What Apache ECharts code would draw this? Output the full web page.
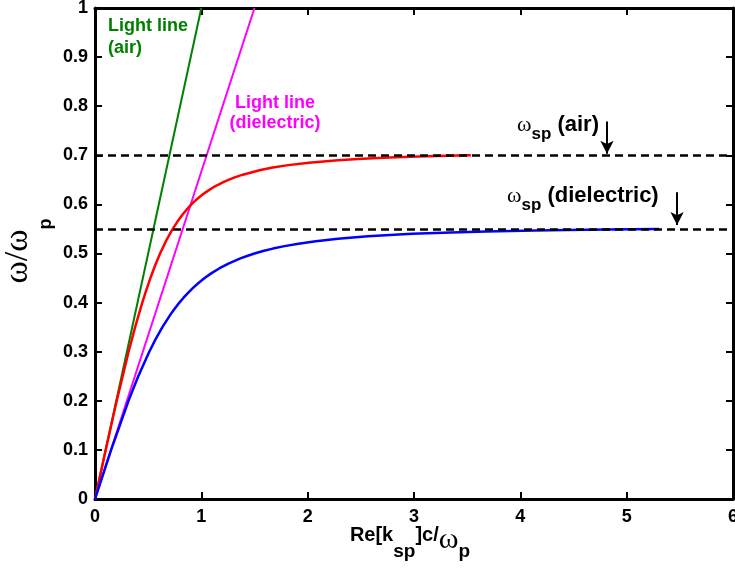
<!DOCTYPE html>
<html><head><meta charset="utf-8">
<script src="https://cdn.jsdelivr.net/npm/echarts@6/dist/echarts.min.js"></script>
<style>html,body{margin:0;padding:0;background:#fff}#c{width:735px;height:577px}</style>
</head><body><div id="c"></div>
<script>
// ---- data ----
const xTickLabels = ['0', '1', '2', '3', '4', '5', '6'];
const yTickLabels = ['0', '0.1', '0.2', '0.3', '0.4', '0.5', '0.6', '0.7', '0.8', '0.9', '1'];

// SPP dispersion, metal / air (red)
const kAir = [0, 0.1005, 0.2043, 0.316, 0.3773, 0.4446, 0.4814, 0.521, 0.5643, 0.612, 0.667, 0.731, 0.7753, 0.826, 0.8643, 0.907, 0.9306, 0.9557, 0.9826, 1.012, 1.0431, 1.0774, 1.115, 1.157, 1.2027, 1.255, 1.3137, 1.382, 1.556, 1.672, 1.818, 2.012, 2.285, 2.471, 2.712, 2.967, 3.125, 3.311, 3.535];
const wAir = [0, 0.1, 0.2, 0.3, 0.35, 0.4, 0.425, 0.45, 0.475, 0.5, 0.525, 0.55, 0.565, 0.58, 0.59, 0.6, 0.605, 0.61, 0.615, 0.62, 0.625, 0.63, 0.635, 0.64, 0.645, 0.65, 0.655, 0.66, 0.67, 0.675, 0.68, 0.685, 0.69, 0.6925, 0.695, 0.697, 0.698, 0.699, 0.7];

// SPP dispersion, metal / dielectric (blue)
const kDiel = [0, 0.1517, 0.3151, 0.4067, 0.5104, 0.5689, 0.6339, 0.7077, 0.7404, 0.7937, 0.8328, 0.8753, 0.9218, 0.9733, 1.031, 1.0963, 1.172, 1.260, 1.367, 1.4296, 1.5, 1.5803, 1.673, 1.7824, 1.914, 2.0762, 2.285, 2.567, 2.981, 3.348, 3.681, 4.137, 4.437, 4.814, 5.304];
const wDiel = [0, 0.1, 0.2, 0.25, 0.3, 0.325, 0.35, 0.375, 0.385, 0.4, 0.41, 0.42, 0.43, 0.44, 0.45, 0.46, 0.47, 0.48, 0.49, 0.495, 0.5, 0.505, 0.51, 0.515, 0.52, 0.525, 0.53, 0.535, 0.54, 0.543, 0.545, 0.547, 0.548, 0.549, 0.55];

// light lines
const lightAirK = [0, 1];
const lightAirW = [0, 1];
const lightDielK = [0, 1.5];
const lightDielW = [0, 1];

// surface plasmon frequencies (dashed)
const spLevels = [0.7, 0.55];

// annotation arrows [x, yStart, yEnd]
const arrowAir = [4.815, 0.769, 0.703];
const arrowDiel = [5.474, 0.625, 0.558];

const zip = (a, b) => a.map((v, i) => [v, b[i]]);

const SANS = 'Liberation Sans, Arial, sans-serif';
const SERIF = 'Liberation Serif, Times New Roman, serif';

const chart = echarts.init(document.getElementById('c'), null, { renderer: 'canvas' });

const axisLineStyle = { color: '#000', width: 3 };
const tickStyle = { color: '#000', width: 2 };

// rich-text styles: a = bold sans, w = serif omega, s = lowered bold subscript
const mkRich = (aSize, aLH, wSize, wLH, sSize, sLH, sPad) => ({
  a: { fontFamily: SANS, fontWeight: 'bold', fontSize: aSize, lineHeight: aLH, verticalAlign: 'top', color: '#000' },
  w: { fontFamily: SERIF, fontWeight: 'normal', fontSize: wSize, lineHeight: wLH, verticalAlign: 'top', color: '#000' },
  s: { fontFamily: SANS, fontWeight: 'bold', fontSize: sSize, lineHeight: sLH, padding: [sPad, 0, 0, 0], verticalAlign: 'top', color: '#000' }
});

const option = {
  animation: false,
  backgroundColor: '#fff',
  grid: { left: 95, right: 2, top: 8, bottom: 78, containLabel: false, outerBoundsMode: 'none' },
  xAxis: [{
    type: 'value', min: 0, max: 6, interval: 1,
    axisLine: { show: true, lineStyle: axisLineStyle, onZero: false },
    axisTick: { show: true, inside: true, length: 7, lineStyle: tickStyle },
    splitLine: { show: false },
    axisLabel: { margin: 9, fontFamily: SANS, fontWeight: 'bold', fontSize: 18, color: '#000',
      formatter: (v, i) => xTickLabels[i] }
  }, {
    type: 'value', min: 0, max: 6, interval: 1, position: 'top',
    axisLine: { show: true, lineStyle: axisLineStyle, onZero: false },
    axisTick: { show: true, inside: true, length: 7, lineStyle: tickStyle },
    splitLine: { show: false }, axisLabel: { show: false }
  }],
  yAxis: [{
    type: 'value', min: 0, max: 1, interval: 0.1,
    axisLine: { show: true, lineStyle: axisLineStyle, onZero: false },
    axisTick: { show: true, inside: true, length: 7, lineStyle: tickStyle },
    splitLine: { show: false },
    axisLabel: { margin: 7, fontFamily: SANS, fontWeight: 'bold', fontSize: 18, color: '#000',
      formatter: (v, i) => yTickLabels[i] }
  }, {
    type: 'value', min: 0, max: 1, interval: 0.1, position: 'right',
    axisLine: { show: true, lineStyle: axisLineStyle, onZero: false },
    axisTick: { show: true, inside: true, length: 7, lineStyle: tickStyle },
    splitLine: { show: false }, axisLabel: { show: false }
  }],
  series: [
    { type: 'line', name: 'light air', data: zip(lightAirK, lightAirW), showSymbol: false, symbol: 'none',
      lineStyle: { color: '#008000', width: 2 }, silent: true },
    { type: 'line', name: 'light diel', data: zip(lightDielK, lightDielW), showSymbol: false, symbol: 'none',
      lineStyle: { color: '#ff00ff', width: 2 }, silent: true },
    { type: 'line', name: 'spp air', data: zip(kAir, wAir), showSymbol: false, symbol: 'none', smooth: false,
      lineStyle: { color: '#ff0000', width: 2.5, join: 'round' }, silent: true },
    { type: 'line', name: 'spp diel', data: zip(kDiel, wDiel), showSymbol: false, symbol: 'none', smooth: false,
      lineStyle: { color: '#0000ff', width: 2.5, join: 'round' }, silent: true },
    { type: 'line', name: 'levels', data: [], silent: true,
      markLine: {
        silent: true, symbol: 'none', animation: false, label: { show: false },
        lineStyle: { color: '#000', width: 2.5, type: [8, 5] },
        data: spLevels.map(v => ({ yAxis: v }))
      } },
    { type: 'line', name: 'arrows', data: [], silent: true,
      markLine: {
        silent: true, symbol: ['none', 'arrow'], symbolSize: [10, 13], animation: false, label: { show: false },
        lineStyle: { color: '#000', width: 2, type: 'solid' },
        data: [arrowAir, arrowDiel].map(a => [{ coord: [a[0], a[1]] }, { coord: [a[0], a[2]] }])
      } }
  ],
  graphic: [
    { type: 'text', left: 108, top: 15, silent: true,
      style: { text: 'Light line\n(air)', fontFamily: SANS, fontWeight: 'bold', fontSize: 18, lineHeight: 22, fill: '#008000' } },
    { type: 'text', x: 275, y: 93, silent: true,
      style: { text: 'Light line\n(dielectric)', align: 'center', verticalAlign: 'top', fontFamily: SANS, fontWeight: 'bold', fontSize: 18, lineHeight: 20, fill: '#ff00ff' } },
    { type: 'text', x: 517, y: 114, silent: true,
      style: { text: '{w|ω}{s|sp}{a| (air)}', rich: mkRich(22, 26, 22, 24, 17, 18, 12), align: 'left', verticalAlign: 'top' } },
    { type: 'text', x: 507, y: 185, silent: true,
      style: { text: '{w|ω}{s|sp}{a| (dielectric)}', rich: mkRich(22, 26, 22, 24, 17, 18, 12), align: 'left', verticalAlign: 'top' } },
    { type: 'text', x: 410, y: 525, silent: true,
      style: { text: '{a|Re[k}{s|sp}{a|]c/}{w|ω}{s|p}', rich: mkRich(20, 24, 30, 18, 19, 20, 17), align: 'center', verticalAlign: 'top' } },
    { type: 'text', x: 1, y: 251, rotation: Math.PI / 2, silent: true,
      style: { text: '{w|ω/ω}{s|p}', rich: mkRich(20, 24, 34, 30, 18, 18, 36), align: 'center', verticalAlign: 'top' } }
  ]
};
chart.setOption(option);
</script>
</body></html>
